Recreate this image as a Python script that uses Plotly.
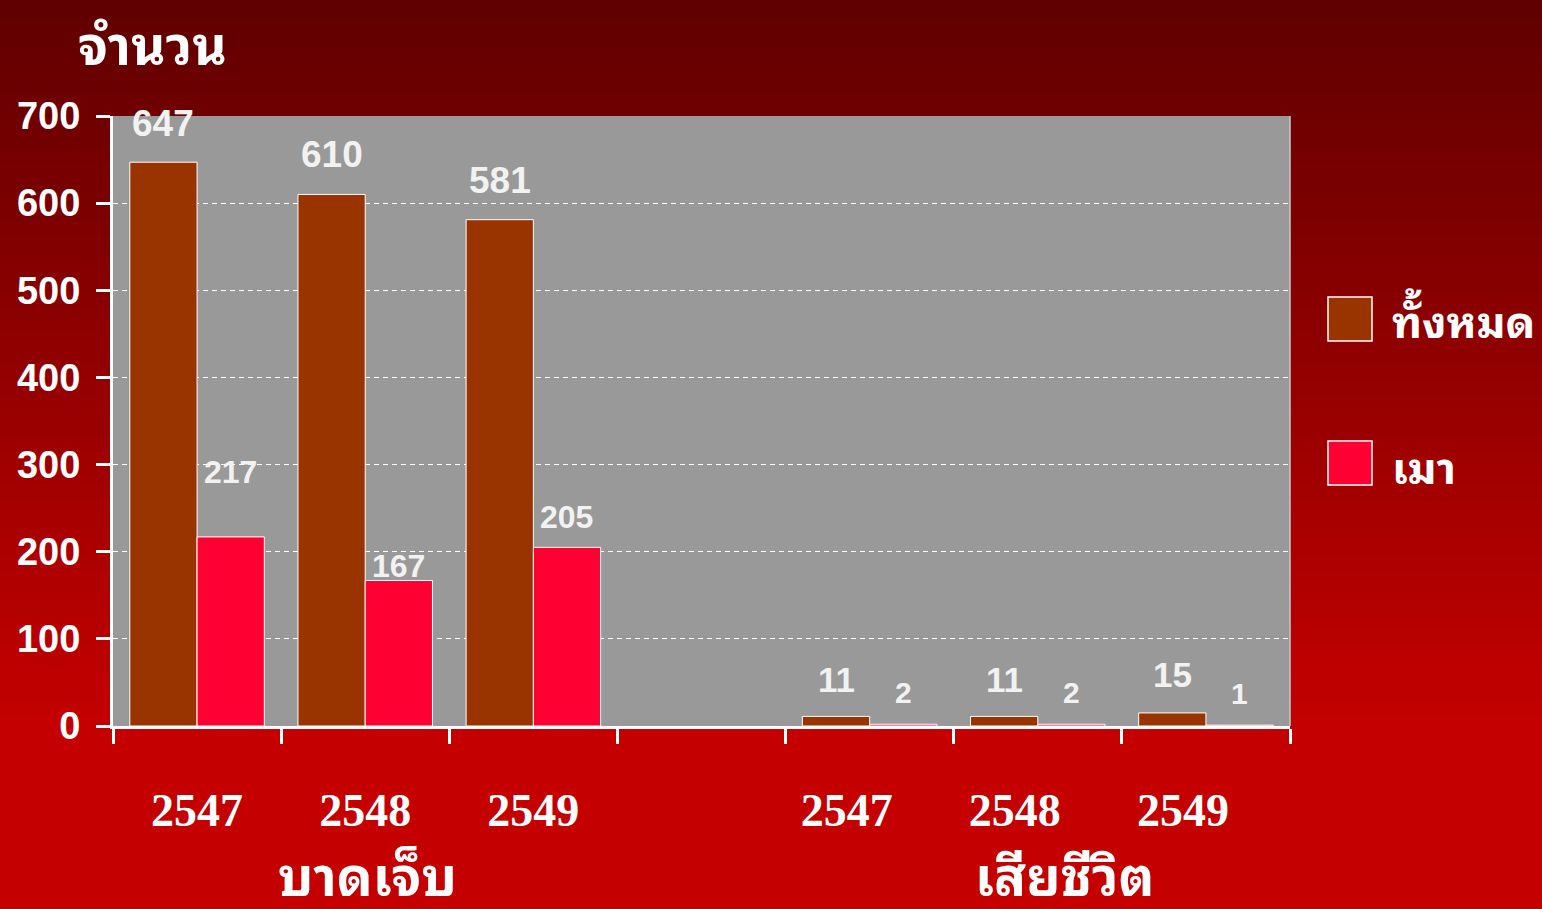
import plotly.graph_objects as go

# ---- data ----
X_IDS = ["inj2547", "inj2548", "inj2549", "gap", "dead2547", "dead2548", "dead2549"]
YEAR_LABELS = ["2547", "2548", "2549", "", "2547", "2548", "2549"]
TOTAL = [647, 610, 581, None, 11, 11, 15]
DRUNK = [217, 167, 205, None, 2, 2, 1]
SERIES_NAMES = ["ทั้งหมด", "เมา"]
GROUP_LABELS = ["บาดเจ็บ", "เสียชีวิต"]
Y_TITLE = "จำนวน"

# ---- style ----
BROWN = "#993300"
RED = "#ff0033"
GRAY = "#999999"
WHITE = "#ffffff"
LABEL_WHITE = "#f2f2f2"
THAI = "Noto Sans Thai Looped, Loma, Norasi, Noto Sans Thai, Garuda, Tahoma, sans-serif"
SANS = "Liberation Sans, Arial, sans-serif"
SERIF = "Liberation Serif, DejaVu Serif, serif"

W, H = 1542, 909
L, R, T, B = 113, 252, 116, 183
PW, PH = W - L - R, H - T - B

# pixel offset of each value label above its bar top
TOTAL_SHIFT = [39, 40, 39, 0, 37, 37, 38]
DRUNK_SHIFT = [65, 14, 30, 0, 32, 32, 32]
TOTAL_SIZE = [37, 37, 37, 37, 35, 35, 35]
DRUNK_SIZE = [32, 32, 32, 32, 30, 30, 30]
# right-hand year labels sit a little left of their category centre
TICK_PAD = ["", "", "", "", "\u00a0" * 4, "\u00a0" * 4, "\u00a0" * 4]


def px_x(px):
    return (px - L) / PW


def px_y(py):
    return (H - B - py) / PH


fig = go.Figure()
fig.add_trace(go.Bar(x=X_IDS, y=TOTAL, name=SERIES_NAMES[0], marker_color=BROWN,
                     marker_line=dict(color=WHITE, width=1)))
fig.add_trace(go.Bar(x=X_IDS, y=DRUNK, name=SERIES_NAMES[1], marker_color=RED,
                     marker_line=dict(color=WHITE, width=1)))

shapes = []
# background gradient (dark red at top to red below)
n = 100
step = H / n
for i in range(n):
    y0 = i * step
    t = min(1.0, (y0 + step / 2) / 720)
    r = int(0x60 + (0xc4 - 0x60) * t)
    shapes.append(dict(type="rect", xref="paper", yref="paper", layer="below",
                       x0=px_x(0), x1=px_x(W), y0=px_y(y0 + step + 1), y1=px_y(y0),
                       fillcolor=f"rgb({r},0,0)", line=dict(width=0)))
# plot area
shapes.append(dict(type="rect", xref="paper", yref="paper", layer="below",
                   x0=0, x1=1, y0=0, y1=1, fillcolor=GRAY, line=dict(width=0)))
shapes.append(dict(type="line", xref="paper", yref="paper", x0=1, x1=1, y0=0, y1=1,
                   line=dict(color="#c8c8c8", width=1.5)))
# legend swatches
for color, py in [(BROWN, 297), (RED, 441)]:
    shapes.append(dict(type="rect", xref="paper", yref="paper",
                       x0=px_x(1328), x1=px_x(1372), y0=px_y(py + 44), y1=px_y(py),
                       fillcolor=color, line=dict(color=WHITE, width=1.5)))

annotations = []
for i, xid in enumerate(X_IDS):
    if TOTAL[i] is not None:
        annotations.append(dict(x=xid, y=TOTAL[i], xshift=-PW / 7 * 0.2, yshift=TOTAL_SHIFT[i],
                                text=str(TOTAL[i]), showarrow=False, yanchor="middle",
                                xanchor="center",
                                font=dict(family=SANS, size=TOTAL_SIZE[i], color=LABEL_WHITE,
                                          weight="bold")))
    if DRUNK[i] is not None:
        annotations.append(dict(x=xid, y=DRUNK[i], xshift=PW / 7 * 0.2, yshift=DRUNK_SHIFT[i],
                                text=str(DRUNK[i]), showarrow=False, yanchor="middle",
                                xanchor="center",
                                font=dict(family=SANS, size=DRUNK_SIZE[i], color=LABEL_WHITE,
                                          weight="bold")))

annotations.append(dict(x=px_x(152), y=px_y(42), xref="paper", yref="paper", text=Y_TITLE,
                        showarrow=False, xanchor="center", yanchor="middle",
                        font=dict(family=THAI, size=53, color=WHITE, weight="bold")))
for text, cx in zip(GROUP_LABELS, [367, 1064]):
    annotations.append(dict(x=px_x(cx), y=px_y(872), xref="paper", yref="paper", text=text,
                            showarrow=False, xanchor="center", yanchor="middle",
                            font=dict(family=THAI, size=53, color=WHITE, weight="bold")))
for text, py in zip(SERIES_NAMES, [318, 464]):
    annotations.append(dict(x=px_x(1390), y=px_y(py), xref="paper", yref="paper", text=text,
                            showarrow=False, xanchor="left", yanchor="middle",
                            font=dict(family=THAI, size=44, color=WHITE, weight="bold")))

fig.update_layout(
    width=W, height=H,
    margin=dict(l=L, r=R, t=T, b=B, autoexpand=False),
    paper_bgcolor="#8c0000", plot_bgcolor=GRAY,
    barmode="group", bargap=0.2, bargroupgap=0,
    showlegend=False,
    shapes=shapes, annotations=annotations,
    xaxis=dict(type="category", categoryorder="array", categoryarray=X_IDS,
               tickmode="array", tickvals=X_IDS,
               ticktext=[lab + pad for lab, pad in zip(YEAR_LABELS, TICK_PAD)],
               tickson="boundaries", ticks="outside", ticklen=15, tickwidth=3,
               tickcolor=WHITE, showline=True, linecolor=WHITE, linewidth=3,
               showgrid=False, range=[-0.5, 6.5], ticklabelstandoff=42,
               tickfont=dict(family=SERIF, size=46, color=WHITE, weight="bold")),
    yaxis=dict(range=[0, 700], dtick=100, ticks="outside", ticklen=14, tickwidth=3,
               tickcolor=WHITE, showline=True, linecolor=WHITE, linewidth=3,
               showgrid=True, gridcolor=WHITE, gridwidth=1.3, griddash="5px,4px",
               zeroline=False, ticklabelstandoff=8,
               tickfont=dict(family=SANS, size=38, color=WHITE, weight="bold")),
)

fig.write_html("out.html", config={"displayModeBar": False},
               post_script="document.body.style.margin='0';document.body.style.overflow='hidden';")
